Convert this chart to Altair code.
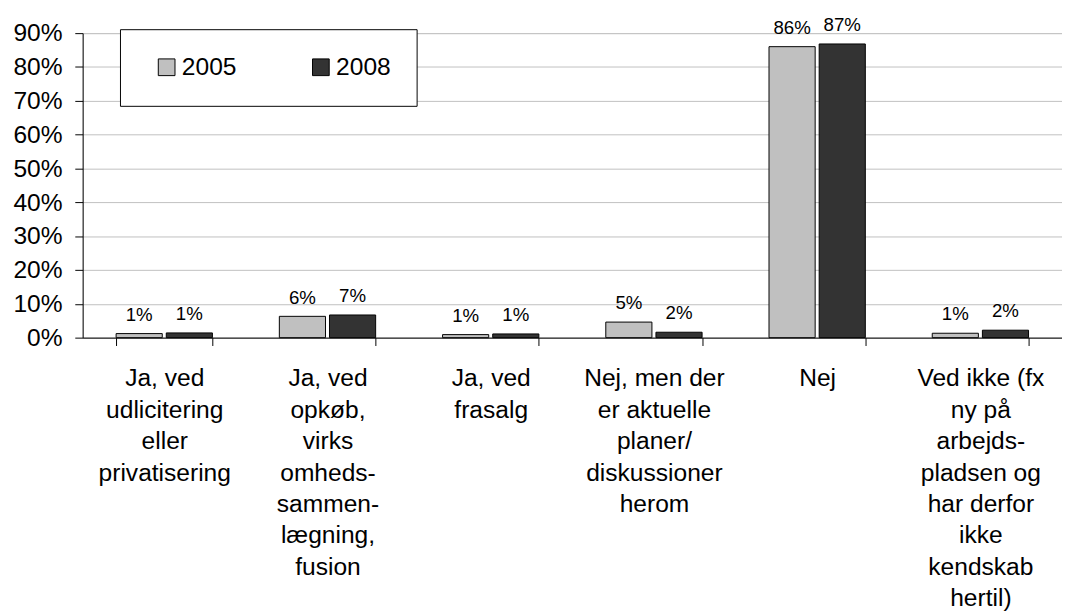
import altair as alt
import pandas as pd

categories = [
    "Ja, ved\nudlicitering\neller\nprivatisering",
    "Ja, ved\nopkøb,\nvirks\nomheds-\nsammen-\nlægning,\nfusion",
    "Ja, ved\nfrasalg",
    "Nej, men der\ner aktuelle\nplaner/\ndiskussioner\nherom",
    "Nej",
    "Ved ikke (fx\nny på\narbejds-\npladsen og\nhar derfor\nikke\nkendskab\nhertil)",
]
years = ["2005", "2008"]
values_2005 = [1.2, 6.3, 0.9, 4.6, 86.0, 1.3]
values_2008 = [1.4, 6.7, 1.1, 1.6, 86.8, 2.2]
y_ticks = [0, 0.1, 0.2, 0.3, 0.4, 0.5, 0.6, 0.7, 0.8, 0.9]

rows = []
for yr, vals in zip(years, [values_2005, values_2008]):
    for c, v in zip(categories, vals):
        rows.append({"category": c, "year": yr, "value": v / 100})
df = pd.DataFrame(rows)

FONT = "Liberation Sans"

x = alt.X(
    "category:N",
    sort=categories,
    scale=alt.Scale(paddingInner=0.41, paddingOuter=0.205),
    axis=alt.Axis(
        title=None,
        labelAngle=0,
        labelExpr="split(datum.label, '\\n')",
        labelFontSize=25,
        labelLineHeight=32,
        labelLimit=0,
        labelBaseline="top",
        labelPadding=21,
        tickBand="extent",
        tickSize=8,
        tickColor="black",
        domainColor="black",
        labelColor="black",
        labelFont=FONT,
        grid=False,
    ),
)
xo = alt.XOffset("year:N", sort=years, scale=alt.Scale(paddingInner=0.08, paddingOuter=0))
y = alt.Y(
    "value:Q",
    scale=alt.Scale(domain=[0, 0.9], nice=False),
    axis=alt.Axis(
        title=None,
        format=".0%",
        values=y_ticks,
        labelFontSize=25,
        labelFont=FONT,
        labelColor="black",
        labelPadding=13,
        tickSize=8,
        tickColor="black",
        domainColor="black",
        gridColor="#C0C0C0",
        gridWidth=1,
    ),
)

bars = alt.Chart(df).mark_bar(stroke="black", strokeWidth=1).encode(
    x=x,
    xOffset=xo,
    y=y,
    color=alt.Color(
        "year:N",
        sort=years,
        scale=alt.Scale(domain=years, range=["#C0C0C0", "#333333"]),
        legend=alt.Legend(
            title=None,
            orient="none",
            legendX=38,
            legendY=-4,
            direction="horizontal",
            symbolType="square",
            symbolSize=289,
            symbolStrokeColor="black",
            symbolStrokeWidth=1,
            symbolOffset=9,
            labelFontSize=25,
            labelFont=FONT,
            labelColor="black",
            labelOffset=3,
            columnPadding=64,
            padding=26,
            strokeColor="black",
            fillColor="white",
        ),
    ),
)

labels = alt.Chart(df).mark_text(
    baseline="alphabetic", dy=-13, fontSize=19, font=FONT, color="black"
).encode(
    x=x,
    xOffset=xo,
    y=y,
    text=alt.Text("value:Q", format=".0%"),
)

chart = (
    alt.layer(bars, labels)
    .properties(
        width=997,
        height=310,
        autosize=alt.AutoSizeParams(type="none"),
        padding={"left": 76, "top": 20, "right": 0, "bottom": 290},
    )
    .configure_view(stroke=None)
    .configure(background="white")
)

chart.save("out.html", embed_options={"renderer": "svg", "actions": False})
